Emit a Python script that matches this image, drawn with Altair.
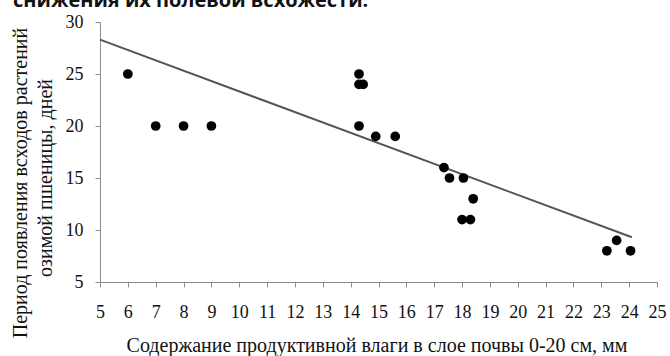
import altair as alt
import pandas as pd

# Soil moisture (mm) in the 0-20 cm layer vs. days to emergence of winter wheat
moisture_mm = [6, 7, 8, 9, 14.3, 14.3, 14.45, 14.3, 14.9, 15.6,
               17.35, 17.55, 18.05, 18.4, 18.0, 18.3, 23.2, 23.55, 24.05]
emergence_days = [25, 20, 20, 20, 25, 24, 24, 20, 19, 19,
                  16, 15, 15, 13, 11, 11, 8, 9, 8]

# Linear trend line end points
trend_x = [5, 24.1]
trend_y = [28.3, 9.3]

x_ticks = list(range(5, 26))
y_ticks = [5, 10, 15, 20, 25, 30]

caption = "снижения их полевой всхожести."
x_title = "Содержание продуктивной влаги в слое почвы 0-20 см, мм"
y_title_1 = "Период появления всходов растений"
y_title_2 = "озимой пшеницы, дней"

SERIF = "Liberation Serif, Times New Roman, serif"
AXIS_GREY = "#8c8c8c"

points = pd.DataFrame({"x": moisture_mm, "y": emergence_days})
trend = pd.DataFrame({"x": trend_x, "y": trend_y})

xs = alt.Scale(domain=[5, 25], nice=False, zero=False)
ys = alt.Scale(domain=[5, 30], nice=False, zero=False)

x_axis = alt.Axis(values=x_ticks, title=None, grid=False,
                  labelFont=SERIF, labelFontSize=18, labelColor="#111111",
                  labelPadding=16, labelFlush=False, labelOverlap=False,
                  domainColor=AXIS_GREY, tickColor=AXIS_GREY, tickSize=5)
y_axis = alt.Axis(values=y_ticks, title=None, grid=False,
                  labelFont=SERIF, labelFontSize=18, labelColor="#111111",
                  labelPadding=12, labelFlush=False, labelOverlap=False,
                  domainColor=AXIS_GREY, tickColor=AXIS_GREY, tickSize=5)

enc_x = alt.X("x:Q", scale=xs, axis=x_axis)
enc_y = alt.Y("y:Q", scale=ys, axis=y_axis)

line = alt.Chart(trend).mark_line(color="#555555", strokeWidth=2).encode(
    x=enc_x, y=enc_y,
)

dots = alt.Chart(points).mark_circle(color="black", opacity=1, size=95).encode(
    x=enc_x, y=enc_y,
)


def label(text, x, y, size, angle=0, weight="normal", font=SERIF,
          baseline="middle", align="center"):
    return alt.Chart(pd.DataFrame({"t": [text]})).mark_text(
        font=font, fontSize=size, fontWeight=weight, color="#111111",
        angle=angle, align=align, baseline=baseline,
    ).encode(x=alt.value(x), y=alt.value(y), text="t:N")


texts = [
    label(x_title, 277, 324, 20),
    label(y_title_1, -79, 161, 20, angle=270),
    label(y_title_2, -54, 156, 20, angle=270),
    label(caption, -87, -15, 20, weight="bold", font="Open Sans",
          baseline="alphabetic", align="left"),
]

chart = alt.layer(line, dots, *texts).properties(
    width=557,
    height=260,
    padding={"left": 100, "top": 22, "right": 13, "bottom": 74},
    autosize=alt.AutoSizeParams(type="none"),
    background="white",
).configure_view(stroke=None).configure_axis(labelOverlap=False)

chart.save("out.html", embed_options={"renderer": "svg", "actions": False})
